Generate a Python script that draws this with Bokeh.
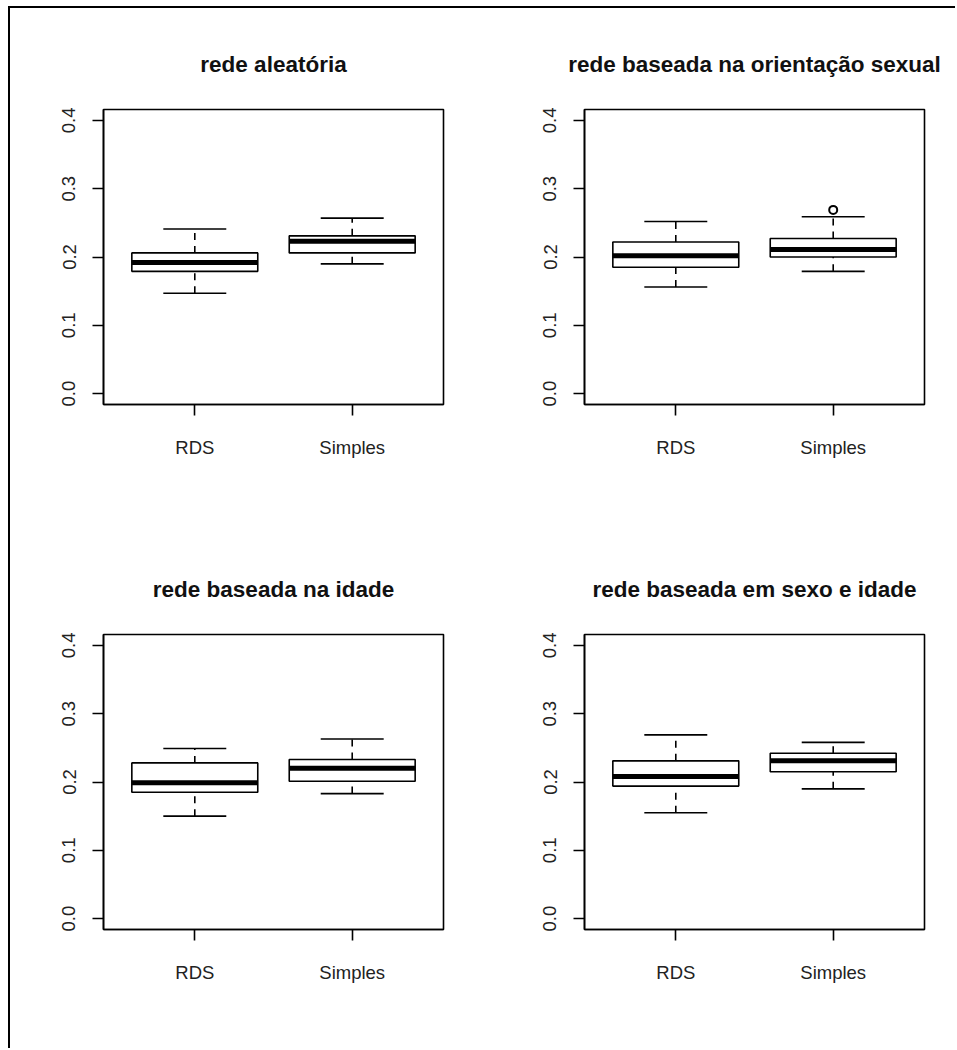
from bokeh.plotting import figure
from bokeh.layouts import column, row
from bokeh.models import FixedTicker, Range1d, NumeralTickFormatter
from bokeh.embed import file_html
from bokeh.resources import INLINE

groups = ["RDS", "Simples"]
titles = ["rede aleatória", "rede baseada na orientação sexual",
          "rede baseada na idade", "rede baseada em sexo e idade"]

# one entry per panel, each holding [RDS, Simples]
whisk_lo = [[0.147, 0.190], [0.156, 0.179], [0.150, 0.183], [0.155, 0.190]]
q1 = [[0.179, 0.206], [0.185, 0.200], [0.185, 0.201], [0.194, 0.215]]
median = [[0.192, 0.223], [0.202, 0.211], [0.199, 0.220], [0.208, 0.231]]
q3 = [[0.206, 0.231], [0.222, 0.227], [0.228, 0.233], [0.231, 0.242]]
whisk_hi = [[0.241, 0.257], [0.252, 0.259], [0.249, 0.263], [0.269, 0.258]]
outliers = [[[], []], [[], [0.269]], [[], []], [[], []]]
y_ticks = [0.0, 0.1, 0.2, 0.3, 0.4]

FONT = "Liberation Sans"


def make(i, width, height, left, right, top, bottom):
    p = figure(width=width, height=height, output_backend="svg",
               toolbar_location=None, tools="",
               x_range=Range1d(0.42, 2.58), y_range=Range1d(-0.016, 0.416),
               min_border_left=left, min_border_right=right,
               min_border_top=top, min_border_bottom=bottom)
    p.title.text = titles[i]
    p.title.align = "center"
    p.title.text_font = FONT
    p.title.text_font_style = "bold"
    p.title.text_font_size = "22.5px"
    p.title.text_color = "#111111"
    p.title.standoff = 66
    p.xgrid.visible = False
    p.ygrid.visible = False
    p.outline_line_color = "black"
    p.outline_line_width = 1.6
    p.background_fill_color = "white"
    p.border_fill_color = "white"

    xs = [k + 1 for k in range(len(groups))]
    p.xaxis.ticker = FixedTicker(ticks=xs)
    p.xaxis.major_label_overrides = {x: g for x, g in zip(xs, groups)}
    p.yaxis.ticker = FixedTicker(ticks=y_ticks)
    p.yaxis.formatter = NumeralTickFormatter(format="0.0")
    p.yaxis.major_label_orientation = "vertical"
    for ax in (p.xaxis, p.yaxis):
        ax.major_tick_in = 0
        ax.major_tick_out = 11
        ax.minor_tick_line_color = None
        ax.major_tick_line_width = 1.6
        ax.axis_line_width = 1.6
        ax.axis_line_color = "black"
        ax.major_label_text_font = FONT
        ax.major_label_text_font_size = "18.5px"
        ax.major_label_text_color = "#222222"
    p.xaxis.major_label_standoff = 21
    p.yaxis.major_label_standoff = 17

    lo, a, m, b, hi = whisk_lo[i], q1[i], median[i], q3[i], whisk_hi[i]
    # whiskers (dashed)
    p.segment(x0=xs, y0=b, x1=xs, y1=hi, line_color="black", line_width=1.6, line_dash="7 6")
    p.segment(x0=xs, y0=lo, x1=xs, y1=a, line_color="black", line_width=1.6, line_dash="7 6")
    # staples
    p.segment(x0=[x - 0.2 for x in xs], y0=hi, x1=[x + 0.2 for x in xs], y1=hi,
              line_color="black", line_width=1.6)
    p.segment(x0=[x - 0.2 for x in xs], y0=lo, x1=[x + 0.2 for x in xs], y1=lo,
              line_color="black", line_width=1.6)
    # boxes
    p.vbar(x=xs, width=0.8, bottom=a, top=b, fill_color="white",
           line_color="black", line_width=1.6)
    # medians
    p.segment(x0=[x - 0.4 for x in xs], y0=m, x1=[x + 0.4 for x in xs], y1=m,
              line_color="black", line_width=5)
    # outliers
    ox, oy = [], []
    for x, vals in zip(xs, outliers[i]):
        for v in vals:
            ox.append(x)
            oy.append(v)
    if ox:
        p.scatter(x=ox, y=oy, marker="circle", size=8, fill_color="white",
                  line_color="black", line_width=2)
    return p


p1 = make(0, 479, 523, 93, 46, 101, 127)
p2 = make(1, 466, 523, 95, 31, 101, 127)
p3 = make(2, 479, 517, 93, 46, 103, 119)
p4 = make(3, 466, 517, 95, 31, 103, 119)

layout = column(row(p1, p2), row(p3, p4), margin=(6, 0, 0, 8),
                styles={"border-top": "2px solid black", "border-left": "2px solid black"})

open("out.html", "w").write(file_html(layout, INLINE))
